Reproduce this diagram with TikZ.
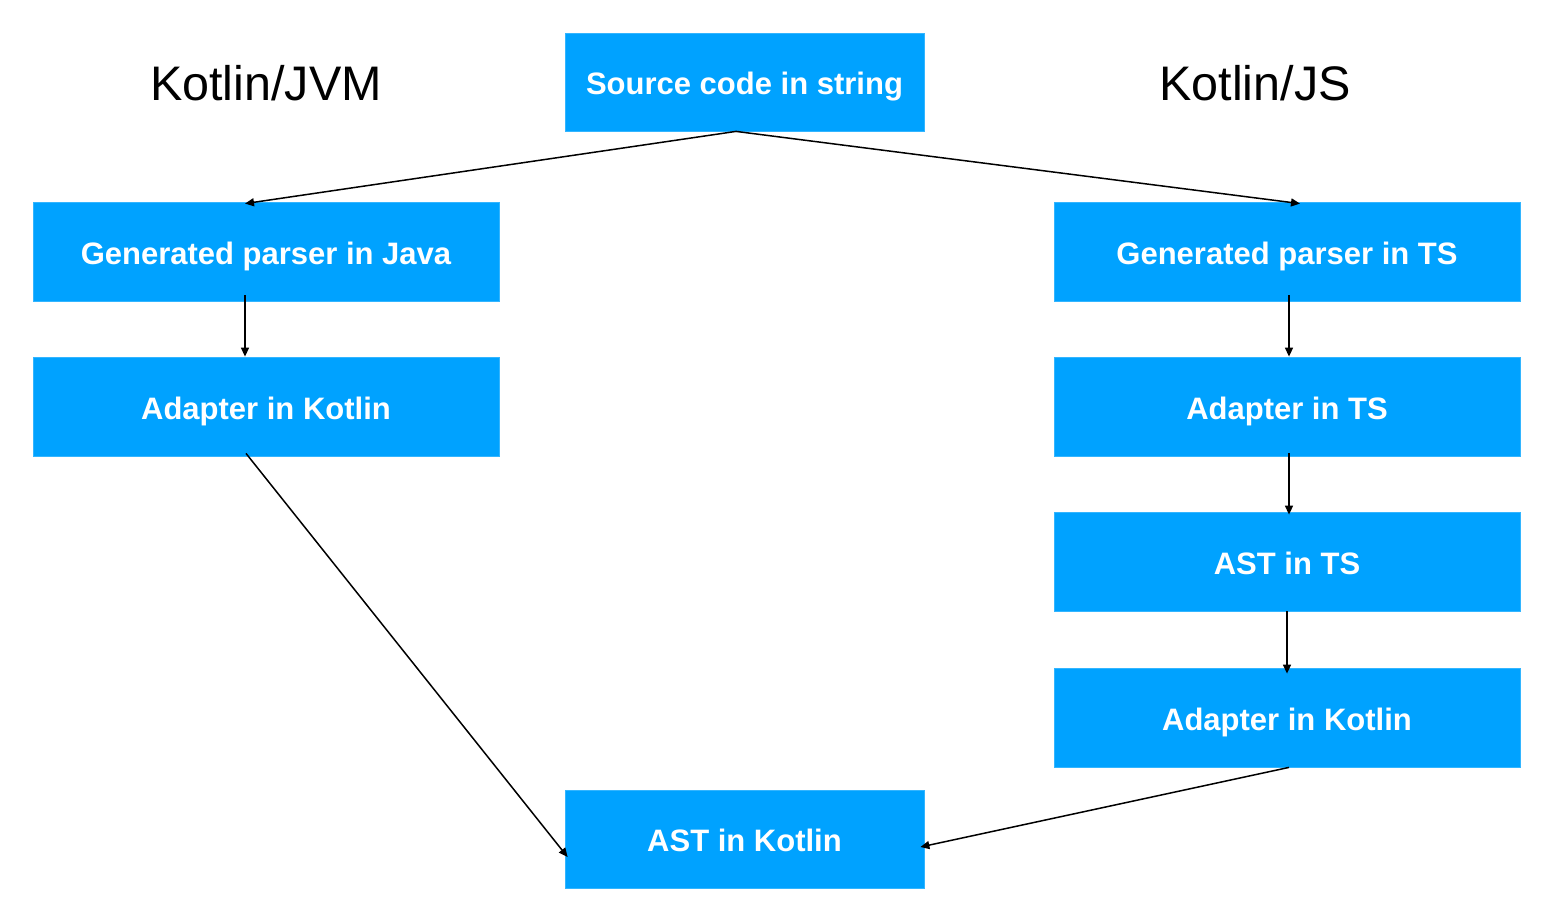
\documentclass[tikz,border=0pt]{standalone}
\usepackage{fontspec}
\setmainfont{Liberation Sans}
\usetikzlibrary{arrows.meta}
\definecolor{boxblue}{HTML}{00A2FF}
\tikzset{
  box/.style={fill=boxblue, draw=boxblue!80!white, line width=0.8pt, text=white, font=\fontsize{31}{36}\selectfont\bfseries, inner sep=0pt, text height=25pt, text depth=0pt, anchor=center},
  wide/.style={box, minimum width=466pt, minimum height=99pt},
  narrow/.style={box, minimum width=359pt, minimum height=98pt},
  title/.style={font=\fontsize{48.5}{56}\selectfont, text=black},
  conn/.style={-{Triangle[length=9pt,width=8pt]}, line width=1.5pt, black}
}
\begin{document}
\begin{tikzpicture}[x=1pt,y=1pt]
\useasboundingbox (0,0) rectangle (1545,-910);
\node[title] (tjvm) at (266,-83) {Kotlin/JVM};
\node[title] (tjs) at (1255,-83) {Kotlin/JS};
\node[narrow] (src) at (744.5,-82) {Source code in string};
\node[wide] (genj) at (266,-251.5) {Generated parser in Java};
\node[wide] (adpl) at (266,-406.5) {Adapter in Kotlin};
\node[wide] (gents) at (1287,-251.5) {Generated parser in TS};
\node[wide] (adpts) at (1287,-406.5) {Adapter in TS};
\node[wide] (astts) at (1287,-561.5) {AST in TS};
\node[wide] (adpkr) at (1287,-717.5) {Adapter in Kotlin};
\node[narrow] (astk) at (744.5,-839) {AST in Kotlin};
\draw[conn] ([xshift=-8.5pt]src.south) -- ([xshift=-21pt,yshift=-2pt]genj.north);
\draw[conn] ([xshift=-8.5pt]src.south) -- ([xshift=13pt,yshift=-2pt]gents.north);
\draw[conn] ([xshift=-21pt,yshift=6pt]genj.south) -- ([xshift=-21pt]adpl.north);
\draw[conn] ([xshift=-20pt,yshift=3pt]adpl.south) -- ([xshift=3pt,yshift=-18pt]astk.west);
\draw[conn] ([xshift=2pt,yshift=6pt]gents.south) -- ([xshift=2pt]adpts.north);
\draw[conn] ([xshift=2pt,yshift=3pt]adpts.south) -- ([xshift=2pt,yshift=-3pt]astts.north);
\draw[conn] (astts.south) -- ([yshift=-6pt]adpkr.north);
\draw[conn] ([xshift=2pt]adpkr.south) -- ([xshift=-4pt,yshift=-8pt]astk.east);
\end{tikzpicture}
\end{document}
